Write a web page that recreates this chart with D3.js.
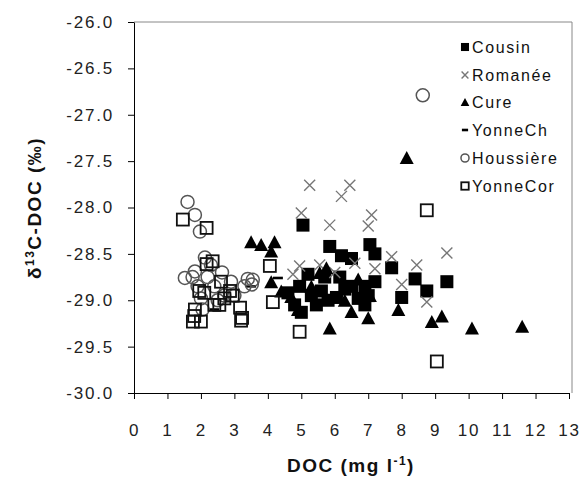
<!DOCTYPE html>
<html><head><meta charset="utf-8">
<script src="https://cdn.jsdelivr.net/npm/d3@7"></script>
<style>
body{margin:0;background:#fff;}
text{font-family:"Liberation Sans",Arial,sans-serif;}
</style></head>
<body>
<svg id="c" width="584" height="482"></svg>
<script>
const xTicks = [0,1,2,3,4,5,6,7,8,9,10,11,12,13];
const yTicks = [-26.0,-26.5,-27.0,-27.5,-28.0,-28.5,-29.0,-29.5,-30.0];

const cousin = [[5.05,-28.19],[5.85,-28.42],[6.2,-28.52],[6.5,-28.55],[7.05,-28.4],[7.2,-28.5],[7.7,-28.65],[8.4,-28.77],[8.75,-28.9],[9.35,-28.8],[8.0,-28.97],[5.2,-28.72],[6.05,-28.97],[6.9,-29.05],[5.0,-29.13],[4.8,-29.05],[5.3,-28.95],[5.6,-28.9],[5.8,-29.0],[6.3,-28.88],[6.5,-28.85],[6.7,-28.98],[7.0,-28.95],[7.2,-28.8],[4.6,-28.92],[5.45,-29.05],[6.15,-28.75],[6.9,-28.85],[5.7,-28.75],[4.95,-28.85]];
const romanee = [[5.0,-28.06],[5.25,-27.76],[6.2,-27.88],[6.45,-27.76],[5.85,-28.19],[7.1,-28.08],[7.0,-28.2],[9.35,-28.49],[7.7,-28.53],[8.45,-28.62],[5.55,-28.62],[4.95,-28.63],[8.0,-28.83],[8.75,-29.02],[7.2,-28.66],[6.0,-28.7],[6.6,-28.6],[4.75,-28.72]];
const cure = [[3.5,-28.37],[3.8,-28.4],[4.2,-28.37],[4.1,-28.47],[8.15,-27.46],[5.85,-29.3],[6.5,-29.12],[7.0,-29.19],[7.9,-29.1],[8.9,-29.23],[9.2,-29.17],[10.1,-29.3],[11.6,-29.28],[5.75,-28.65],[5.55,-28.7],[4.1,-28.8],[4.7,-28.96],[4.9,-29.1],[6.7,-28.77],[6.3,-29.0],[7.05,-28.95],[5.3,-28.85],[4.4,-28.9]];
const yonneCh = [[2.4,-29.1],[4.3,-28.76],[6.1,-28.95],[3.5,-28.85]];
const houssiere = [[1.6,-27.94],[1.82,-28.08],[1.97,-28.26],[8.63,-26.79],[2.12,-28.54],[1.52,-28.76],[1.82,-28.69],[2.3,-28.62],[2.63,-28.7],[3.4,-28.77],[3.52,-28.83],[3.3,-28.85],[1.9,-28.85],[2.0,-28.98],[2.4,-28.85],[2.7,-28.95],[1.75,-28.75],[2.2,-28.75],[2.9,-28.8],[3.55,-28.78],[2.5,-29.0],[3.0,-28.95],[2.05,-29.1]];
const yonneCor = [[1.46,-28.13],[2.17,-28.22],[4.06,-28.63],[4.15,-29.02],[4.95,-29.34],[8.75,-28.03],[9.05,-29.66],[2.17,-28.61],[2.35,-28.58],[1.82,-29.1],[2.0,-29.23],[1.76,-29.23],[2.87,-28.9],[3.23,-29.19],[3.17,-29.08],[2.4,-29.05],[2.6,-28.8],[2.95,-28.95],[1.95,-28.9],[2.7,-28.98],[2.55,-29.05],[1.8,-29.17],[3.2,-29.22],[2.1,-28.92]];

const seriesNames = ["Cousin","Romanée","Cure","YonneCh","Houssière","YonneCor"];
const seriesData = [cousin, romanee, cure, yonneCh, houssiere, yonneCor];

const svg = d3.select("#c");
const L = 134, R = 569, T = 22, B = 393;
const x = d3.scaleLinear().domain([0,13]).range([L,R]);
const y = d3.scaleLinear().domain([-30,-26]).range([B,T]);

svg.append("path").attr("d",`M${L},${T}H572V${B}`).attr("fill","none").attr("stroke","#888").attr("stroke-width",1);

const xa = svg.append("g").attr("transform",`translate(0,${B})`)
  .call(d3.axisBottom(x).tickValues(xTicks).tickSize(6).tickSizeOuter(0).tickPadding(25).tickFormat(d3.format("d")));
const ya = svg.append("g").attr("transform",`translate(${L},0)`)
  .call(d3.axisLeft(y).tickValues(yTicks).tickSize(6).tickSizeOuter(0).tickPadding(14).tickFormat(d3.format(".1f")));
[xa,ya].forEach(g=>{
  g.select(".domain").attr("stroke","#000");
  g.selectAll(".tick line").attr("stroke","#000");
  g.selectAll("text").attr("font-family","'Liberation Sans',Arial,sans-serif")
   .attr("font-size","17px").attr("letter-spacing","1.8px").attr("fill","#222");
});
ya.selectAll("text").text(d=>d3.format(".1f")(d).replace("−","-"));

function drawMarker(g, i, px, py, scale){
  const s = scale||1;
  if(i===0){
    g.append("rect").attr("x",px-6.5*s).attr("y",py-6.5*s).attr("width",13*s).attr("height",13*s).attr("fill","#000");
  } else if(i===1){
    const h=5.5*s;
    g.append("path").attr("d",`M${px-h},${py-h}L${px+h},${py+h}M${px-h},${py+h}L${px+h},${py-h}`)
      .attr("stroke","#777").attr("stroke-width",1.4).attr("fill","none");
  } else if(i===2){
    const w=7*s, hh=6.5*s;
    g.append("path").attr("d",`M${px},${py-hh}L${px+w},${py+hh}L${px-w},${py+hh}Z`).attr("fill","#000");
  } else if(i===3){
    g.append("rect").attr("x",px-5*s).attr("y",py-1.3).attr("width",10*s).attr("height",2.6).attr("fill","#000");
  } else if(i===4){
    g.append("circle").attr("cx",px).attr("cy",py).attr("r",6.5*s).attr("fill","none").attr("stroke","#555").attr("stroke-width",1.5);
  } else {
    g.append("rect").attr("x",px-6*s).attr("y",py-6*s).attr("width",12*s).attr("height",12*s)
      .attr("fill","none").attr("stroke","#111").attr("stroke-width",1.8);
  }
}

const pts = svg.append("g");
seriesData.forEach((arr,i)=>{
  const g = pts.append("g").attr("class","s"+i);
  arr.forEach(d=>drawMarker(g,i,x(d[0]),y(d[1])));
});

const lg = svg.append("g");
const ly = [47,75,102,130,158,186];
seriesNames.forEach((n,i)=>{
  drawMarker(lg,i,465,ly[i],0.62);
  lg.append("text").attr("x",472).attr("y",ly[i]+6).text(n)
    .attr("font-size","16px").attr("letter-spacing","1.6px").attr("fill","#111");
});

const xt = svg.append("text").attr("x",351).attr("y",472).attr("text-anchor","middle")
  .attr("font-size","19px").attr("font-weight","bold").attr("letter-spacing","1.5px").attr("fill","#111");
xt.append("tspan").text("DOC (mg l");
xt.append("tspan").text("-1").attr("font-size","12px").attr("dy",-7);
xt.append("tspan").text(")").attr("dy",7);

const yt = svg.append("text").attr("transform","translate(41,208) rotate(-90)").attr("text-anchor","middle")
  .attr("font-size","19px").attr("font-weight","bold").attr("letter-spacing","1.5px").attr("fill","#111");
yt.append("tspan").text("δ");
yt.append("tspan").text("13").attr("font-size","12px").attr("dy",-7);
yt.append("tspan").text("C-DOC (‰)").attr("dy",7);
</script>
</body></html>
